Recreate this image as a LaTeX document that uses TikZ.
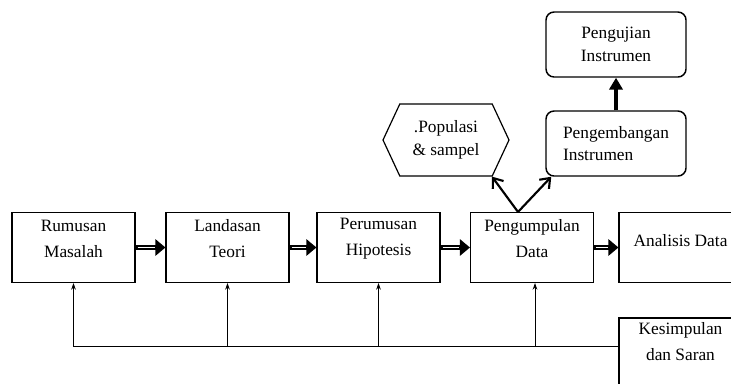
\documentclass[tikz,border=0pt]{standalone}
\usepackage{fontspec}
\setmainfont{Liberation Serif}
\usetikzlibrary{arrows.meta,shapes.symbols,positioning}

\begin{document}
\begin{tikzpicture}[x=0.75pt,y=-0.75pt]
\tikzset{
  stepbox/.style={rectangle,draw=black,line width=0.8pt,minimum width=92.25pt,minimum height=52.5pt,inner sep=0pt},
  steplabel/.style={align=center,inner sep=0pt,font=\fontsize{13}{19.5}\selectfont},
  roundbox/.style={rectangle,rounded corners=6pt,draw=black,line width=1.1pt,minimum width=105pt,minimum height=48.75pt,inner sep=2pt,font=\fontsize{13}{17}\selectfont},
  hexnode/.style={signal,signal to=east and west,signal pointer angle=130,draw=black,line width=0.9pt,minimum width=94.5pt,minimum height=54pt,inner sep=0pt,align=center,font=\fontsize{13}{17}\selectfont},
  flowarrow/.style={draw=black,line width=4pt,-{Triangle[length=7.5pt,width=12pt]},
    postaction={draw=white,line width=0.9pt,-,shorten <=1.5pt,shorten >=8pt}},
  backarrow/.style={draw=black,line width=0.6pt,-{Stealth[length=5pt,width=3.5pt]}},
  branch/.style={draw=black,line width=1.6pt,-{Straight Barb[length=6.5pt,width=10pt]}},
  boldarrow/.style={draw=black,line width=2.4pt,-{Triangle[length=9pt,width=10pt]}}
}
\clip (0,0) rectangle (731,383);
\node[stepbox,label={[steplabel,yshift=6.75pt]center:Rumusan\\Masalah}] (n_rumusan) at (73.5,247.5) {};
\node[stepbox,label={[steplabel,yshift=6.75pt]center:Landasan\\Teori}] (n_landasan) at (227.5,247.5) {};
\node[stepbox,label={[steplabel,yshift=6.75pt]center:Perumusan\\Hipotesis}] (n_hipotesis) at (378.5,247.5) {};
\node[stepbox,label={[steplabel,yshift=6.75pt]center:Pengumpulan\\Data}] (n_pengumpulan) at (532,247.5) {};
\node[stepbox,label={[steplabel,yshift=5.25pt]center:Analisis Data}] (n_analisis) at (680.5,247.5) {};
\node[stepbox,label={[steplabel,yshift=8.25pt]center:Kesimpulan\\dan Saran}] (n_kesimpulan) at (680.5,353) {};
\node[hexnode] (n_populasi) at (446,140) {.Populasi\\\& sampel};
\node[roundbox,align=left] (n_pengembangan) at (616,143.5) {Pengembangan\\Instrumen};
\node[roundbox,align=center] (n_pengujian) at (616,44.5) {Pengujian\\Instrumen};
\coordinate (c_back) at ([yshift=5.25pt]n_kesimpulan.west);
\draw[flowarrow] (n_rumusan) -- (n_landasan);
\draw[flowarrow] (n_landasan) -- (n_hipotesis);
\draw[flowarrow] (n_hipotesis) -- (n_pengumpulan);
\draw[flowarrow] (n_pengumpulan) -- (n_analisis);
\draw[backarrow] (c_back) -| (n_rumusan.south);
\draw[backarrow] (c_back -| n_landasan.south) -- (n_landasan.south);
\draw[backarrow] (c_back -| n_hipotesis.south) -- (n_hipotesis.south);
\draw[backarrow] ([xshift=2.25pt]c_back -| n_pengumpulan.south) -- ([xshift=2.25pt]n_pengumpulan.south);
\draw[branch] ([xshift=-10.5pt]n_pengumpulan.north) -- ([xshift=34.5pt]n_populasi.south);
\draw[branch] ([xshift=-10.5pt]n_pengumpulan.north) -- ([xshift=4.5pt]n_pengembangan.south west);
\draw[boldarrow] (n_pengembangan) -- (n_pengujian);
\end{tikzpicture}
\end{document}
